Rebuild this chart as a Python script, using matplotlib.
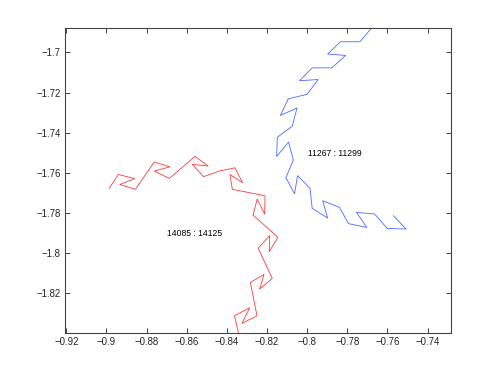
import matplotlib
matplotlib.use('Agg')
import matplotlib.pyplot as plt
import numpy as np

# trajectory segments (x, y)
blue_x = [-0.7646, -0.7737, -0.7834, -0.7898, -0.7809, -0.7877, -0.7975, -0.8038,
          -0.7945, -0.8001, -0.8094, -0.8134, -0.8051, -0.8074, -0.8149, -0.8152,
          -0.8093, -0.8069, -0.8106, -0.8063, -0.8048, -0.7986, -0.7975, -0.7898,
          -0.7923, -0.7839, -0.7794, -0.7703, -0.7754, -0.7664, -0.7601, -0.7507,
          -0.7570]
blue_y = [-1.6839, -1.6947, -1.6947, -1.7008, -1.7015, -1.7077, -1.7077, -1.7141,
          -1.7135, -1.7209, -1.7231, -1.7314, -1.7277, -1.7367, -1.7423, -1.7518,
          -1.7447, -1.7536, -1.7624, -1.7704, -1.7614, -1.7677, -1.7777, -1.7825,
          -1.7739, -1.7772, -1.7853, -1.7872, -1.7797, -1.7805, -1.7877, -1.7880,
          -1.7814]

red_x = [-0.8986, -0.8941, -0.8860, -0.8934, -0.8856, -0.8762, -0.8684, -0.8762,
         -0.8687, -0.8559, -0.8494, -0.8572, -0.8516, -0.8438, -0.8360, -0.8322,
         -0.8385, -0.8373, -0.8210, -0.8212, -0.8249, -0.8270, -0.8146, -0.8189,
         -0.8187, -0.8244, -0.8174, -0.8237, -0.8215, -0.8283, -0.8250, -0.8325,
         -0.8287, -0.8362, -0.8333]
red_y = [-1.7677, -1.7608, -1.7629, -1.7658, -1.7682, -1.7546, -1.7570, -1.7591,
         -1.7628, -1.7518, -1.7566, -1.7558, -1.7619, -1.7591, -1.7575, -1.7649,
         -1.7608, -1.7682, -1.7714, -1.7805, -1.7731, -1.7810, -1.7921, -1.7993,
         -1.7912, -1.7976, -1.8126, -1.8179, -1.8106, -1.8146, -1.8312, -1.8350,
         -1.8272, -1.8312, -1.8441]

blue_label = '11267 : 11299'
red_label = '14085 : 14125'

xticks = np.arange(-0.92, -0.739, 0.02)
yticks = np.arange(-1.82, -1.699, 0.02)

plt.rcParams['font.family'] = ['Liberation Sans', 'DejaVu Sans']

def fmt(v):
    return ('%g' % round(v, 2)).replace('-', '\u2212')

fig = plt.figure(figsize=(4.98, 3.75), dpi=100)
ax = fig.add_axes([0.13, 0.113, 0.775, 0.812])

ax.plot(blue_x, blue_y, color='#4a68ff', lw=0.6)
ax.plot(red_x, red_y, color='#ff3a3a', lw=0.6)

ax.text(-0.7995, -1.7503, blue_label, fontsize=6.2, ha='left', va='center')
ax.text(-0.8697, -1.7902, red_label, fontsize=6.2, ha='left', va='center')

ax.set_xlim(-0.9208, -0.7285)
ax.set_ylim(-1.8396, -1.6879)
ax.set_xticks(xticks)
ax.set_yticks(yticks)
ax.set_xticklabels([fmt(v) for v in xticks])
ax.set_yticklabels([fmt(v) for v in yticks])
ax.tick_params(direction='in', top=True, right=True, length=3.5, width=0.6,
               labelsize=6.9, colors='#222222', pad=3)
for s in ax.spines.values():
    s.set_linewidth(0.8)
    s.set_color('#444444')

fig.savefig('out.png', dpi=100)
